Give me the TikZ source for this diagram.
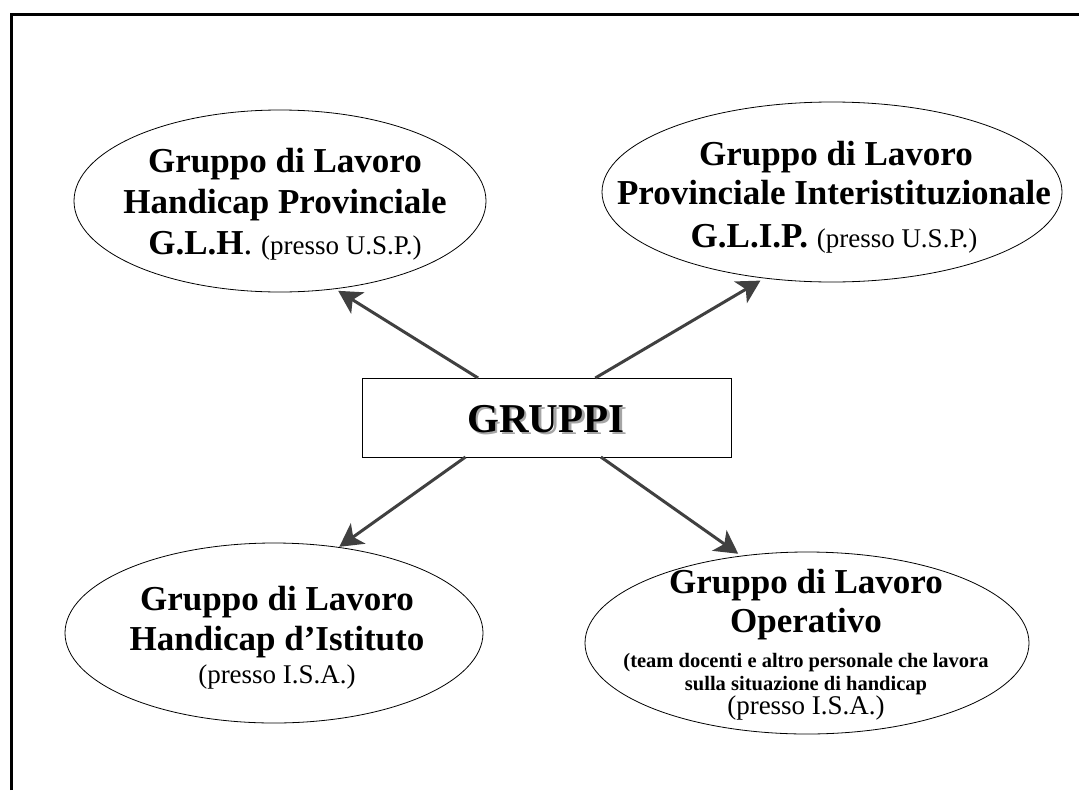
\documentclass[tikz,border=0pt]{standalone}
\usepackage{fontspec}
\setmainfont{Liberation Serif}
\usetikzlibrary{shapes.geometric,arrows.meta}
\definecolor{arrowgray}{RGB}{64,64,64}
\definecolor{shadowgray}{RGB}{165,165,165}
\begin{document}
\begin{tikzpicture}[x=1pt,y=-1pt,
  oval/.style={ellipse,draw,line width=0.8pt,inner sep=0pt,outer sep=0pt},
  big/.style={font=\fontsize{35}{40}\selectfont\bfseries,anchor=base,inner sep=0pt},
  mid/.style={font=\fontsize{27}{31}\selectfont,anchor=base,inner sep=0pt},
  small/.style={font=\fontsize{20.5}{24}\selectfont\bfseries,anchor=base,inner sep=0pt},
  title/.style={font=\fontsize{41}{48}\selectfont\bfseries,anchor=base,inner sep=0pt},
  link/.style={draw=arrowgray,line width=3pt,-{Stealth[length=23pt,width=25pt,inset=6pt]}}]
\useasboundingbox (0,0) rectangle (1079,790);
\draw[line width=3pt] (11,790) -- (11,14) -- (1079,14);

% top left
\node[oval,minimum width=412pt,minimum height=182pt] (tl) at (280,201) {};
\node[big] (tl1) at (285,172) {Gruppo di Lavoro};
\node[big] (tl2) at (285,213) {Handicap Provinciale};
\node[big] (tl3) at (285,254) {G.L.H\mdseries. {\fontsize{27}{31}\selectfont(presso U.S.P.)}};

% top right
\node[oval,minimum width=460pt,minimum height=180pt] (tr) at (832,192) {};
\node[big] (tr1) at (836,165) {Gruppo di Lavoro};
\node[big] (tr2) at (834,204) {Provinciale Interistituzionale};
\node[big] (tr3) at (834,247) {G.L.I.P. {\mdseries\fontsize{27}{31}\selectfont(presso U.S.P.)}};

% bottom left
\node[oval,minimum width=418pt,minimum height=180pt] (bl) at (274,633) {};
\node[big] (bl1) at (277,610) {Gruppo di Lavoro};
\node[big] (bl2) at (277,650) {Handicap d’Istituto};
\node[mid] (bl3) at (277,683) {(presso I.S.A.)};

% bottom right
\node[oval,minimum width=444pt,minimum height=182pt] (br) at (807,643) {};
\node[big] (br1) at (806,593) {Gruppo di Lavoro};
\node[big] (br2) at (806,632) {Operativo};
\node[small] (br3) at (806,667) {(team docenti e altro personale che lavora};
\node[small] (br4) at (806,690) {sulla situazione di handicap};
\node[mid] (br5) at (806,714) {(presso I.S.A.)};

% centre box
\node[draw,line width=0.8pt,minimum width=369pt,minimum height=79pt,inner sep=0pt,outer sep=0pt] (box) at (546.5,417.5) {};
\node[title] (g) at (546,432) {\rlap{\kern2.5pt\raisebox{-2.5pt}{\textcolor{shadowgray}{GRUPPI}}}GRUPPI};

% connectors
\draw[link,shorten >=4pt] (box.150) -- (tl.-58);
\draw[link,shorten >=5pt] (box.39) -- (tr.232);
\draw[link,shorten >=1pt] (box.206) -- (bl.53);
\draw[link,shorten >=4pt] (box.-36) -- (br.127);
\end{tikzpicture}
\end{document}
